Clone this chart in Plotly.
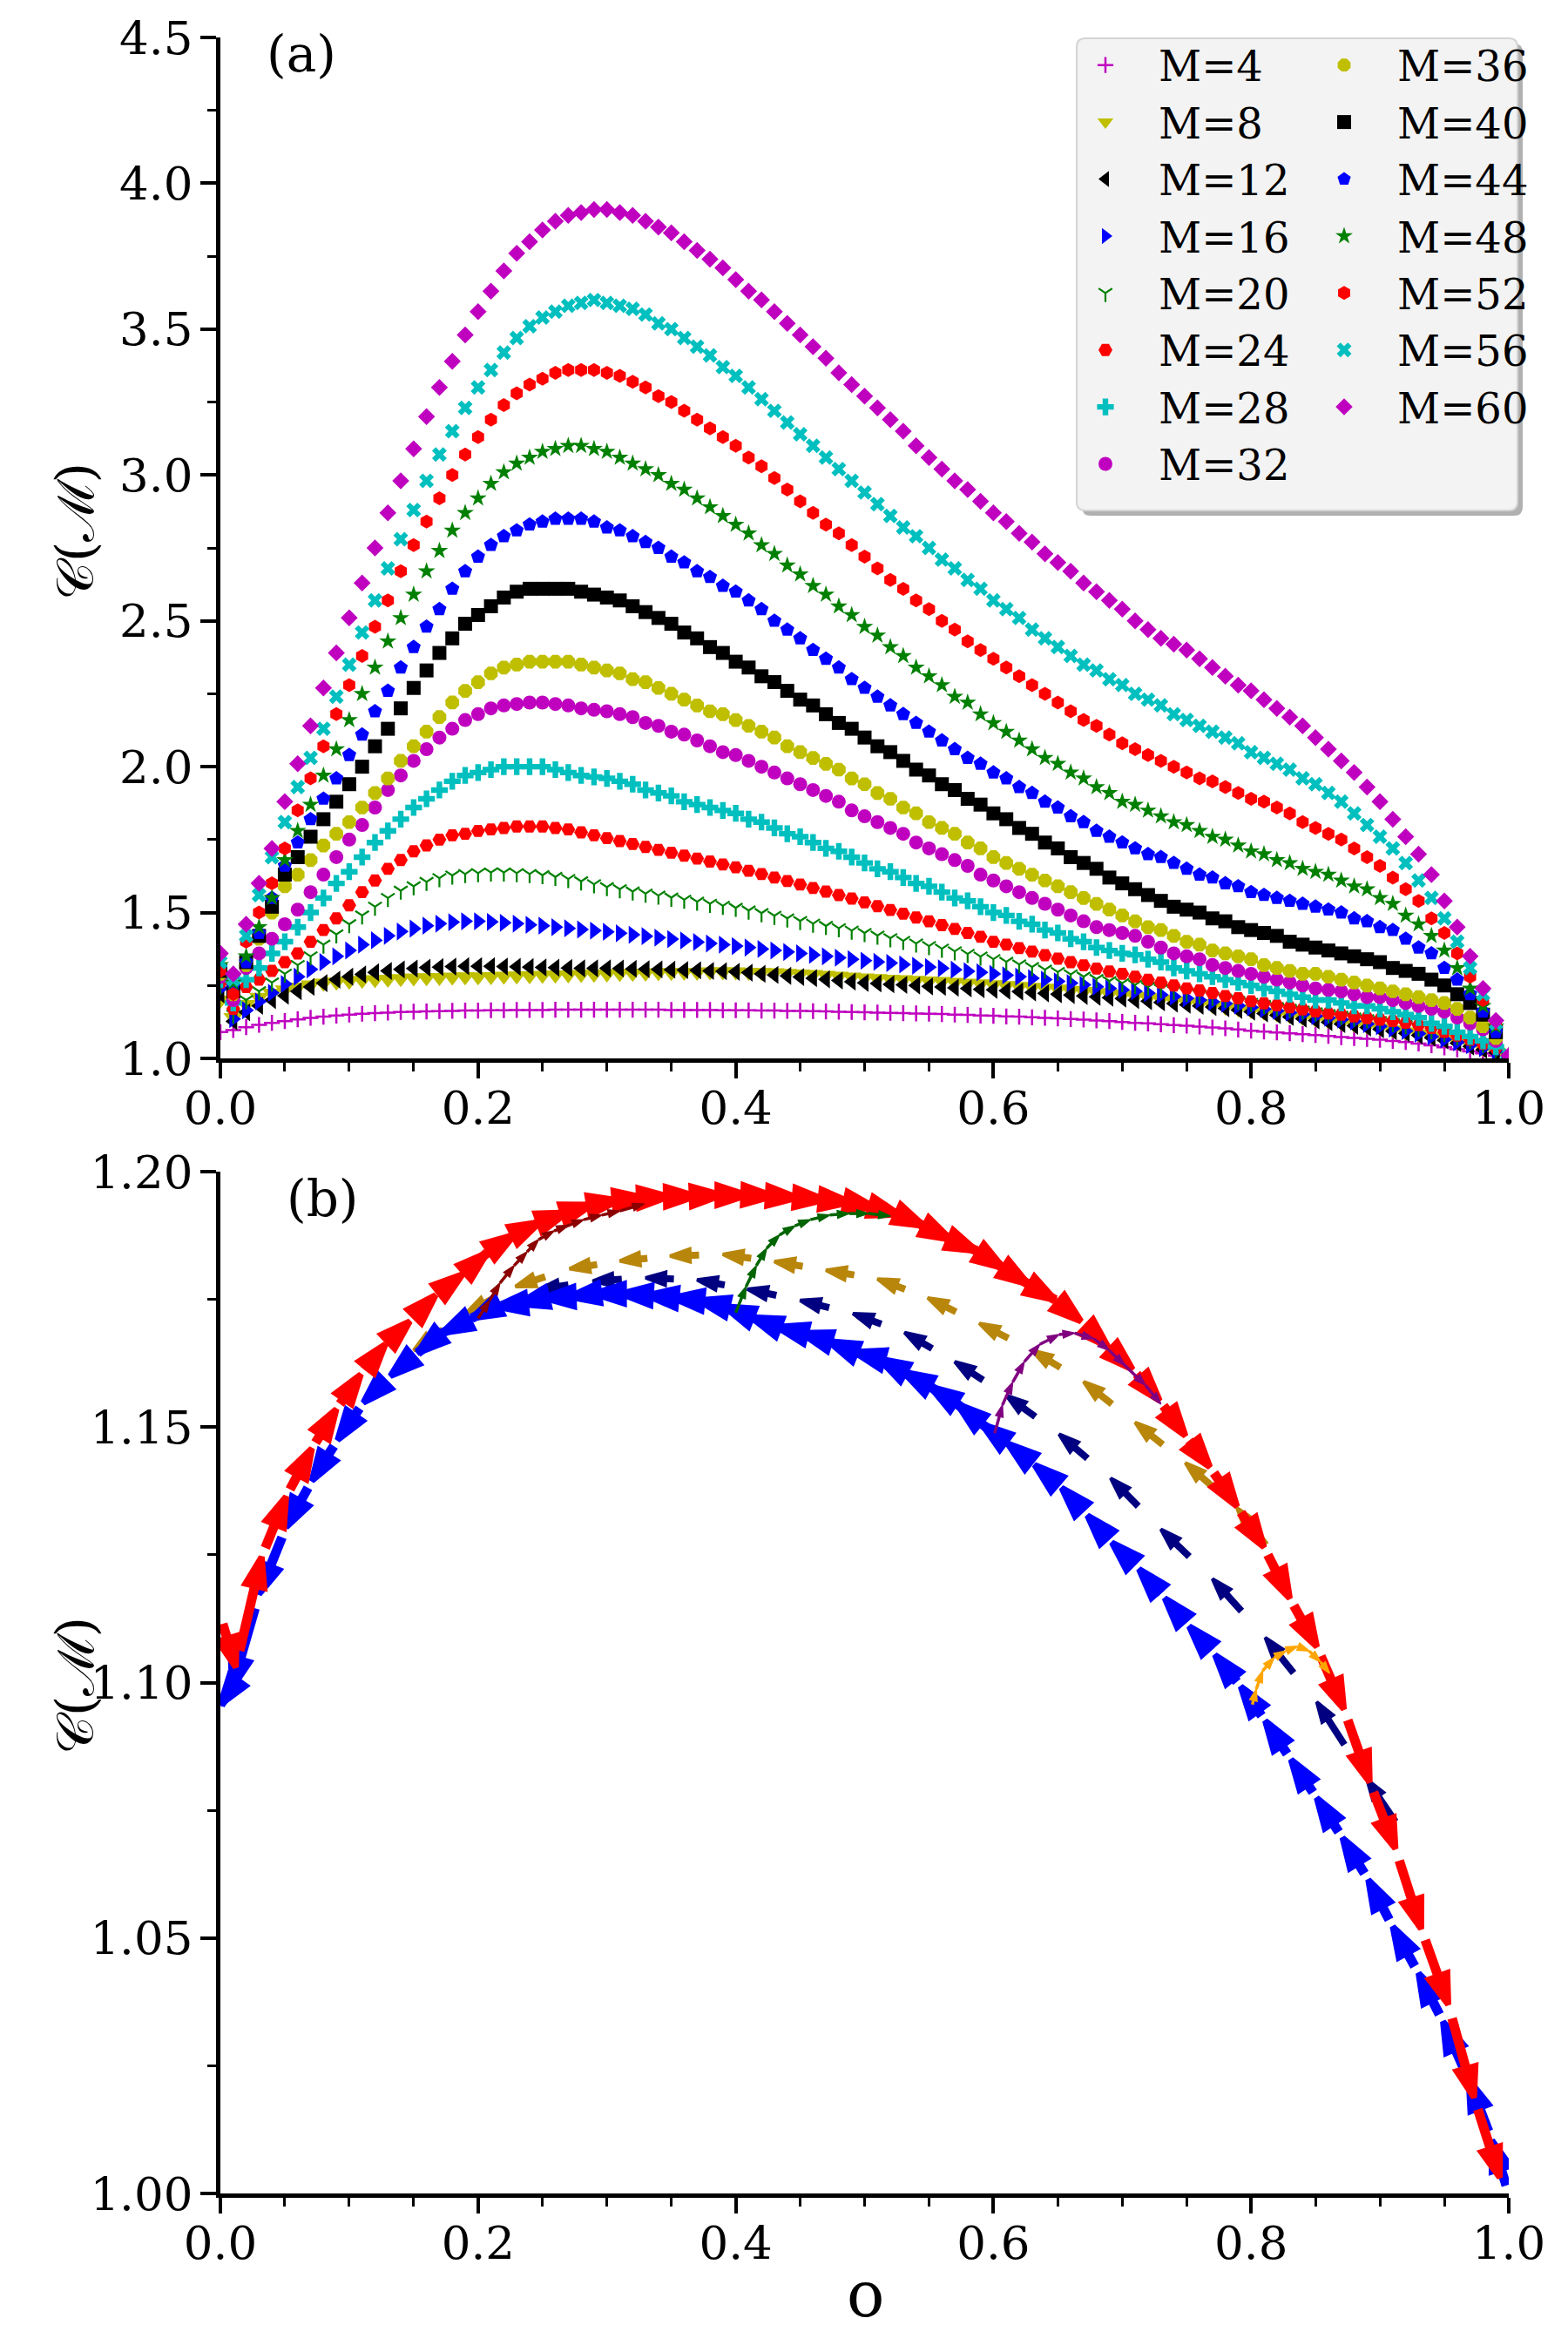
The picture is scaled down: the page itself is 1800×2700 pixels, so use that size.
import numpy as np
import plotly.graph_objects as go

W, H = 1800, 2700
FONT = "DejaVu Serif"

# ---------------- panel (a) data ----------------
X_A = np.linspace(0.0, 1.0, 101)

C_M4 = [1.09, 1.097, 1.107, 1.115, 1.122, 1.128, 1.134, 1.139, 1.143, 1.147,
        1.15, 1.153, 1.155, 1.157, 1.159, 1.16, 1.161, 1.162, 1.163, 1.164,
        1.164, 1.165, 1.165, 1.166, 1.166, 1.166, 1.167, 1.167, 1.167, 1.167,
        1.167, 1.167, 1.167, 1.167, 1.167, 1.166, 1.166, 1.166, 1.166, 1.165,
        1.165, 1.165, 1.164, 1.164, 1.163, 1.163, 1.162, 1.161, 1.16, 1.159,
        1.158, 1.157, 1.156, 1.155, 1.154, 1.153, 1.152, 1.15, 1.149, 1.147,
        1.146, 1.144, 1.143, 1.141, 1.139, 1.137, 1.135, 1.133, 1.13, 1.128,
        1.125, 1.122, 1.12, 1.117, 1.114, 1.112, 1.109, 1.106, 1.103, 1.099,
        1.095, 1.092, 1.089, 1.086, 1.083, 1.08, 1.077, 1.073, 1.07, 1.067,
        1.064, 1.06, 1.056, 1.051, 1.045, 1.038, 1.031, 1.024, 1.017, 1.01,
        1.00]
C_M8 = [1.20, 1.14, 1.185, 1.21, 1.224, 1.235, 1.245, 1.252, 1.258, 1.262,
        1.265, 1.268, 1.27, 1.272, 1.274, 1.276, 1.277, 1.278, 1.279, 1.28,
        1.28, 1.281, 1.282, 1.283, 1.284, 1.285, 1.286, 1.287, 1.288, 1.289,
        1.29, 1.291, 1.292, 1.293, 1.294, 1.295, 1.296, 1.296, 1.297, 1.297,
        1.297, 1.296, 1.295, 1.294, 1.292, 1.29, 1.288, 1.285, 1.282, 1.279,
        1.276, 1.274, 1.272, 1.27, 1.268, 1.266, 1.264, 1.261, 1.258, 1.256,
        1.253, 1.25, 1.247, 1.244, 1.241, 1.238, 1.234, 1.23, 1.226, 1.222,
        1.218, 1.213, 1.208, 1.203, 1.198, 1.193, 1.188, 1.182, 1.176, 1.17,
        1.165, 1.159, 1.153, 1.147, 1.141, 1.135, 1.129, 1.123, 1.117, 1.111,
        1.105, 1.098, 1.091, 1.084, 1.076, 1.068, 1.058, 1.047, 1.035, 1.022,
        1.00]
C_M12 = [1.22, 1.127, 1.158, 1.18, 1.20, 1.215, 1.23, 1.245, 1.258, 1.27,
         1.28, 1.288, 1.295, 1.30, 1.305, 1.308, 1.311, 1.313, 1.315, 1.316,
         1.316, 1.316, 1.315, 1.314, 1.313, 1.312, 1.311, 1.31, 1.309, 1.309,
         1.309, 1.308, 1.307, 1.306, 1.305, 1.304, 1.303, 1.302, 1.30, 1.299,
         1.297, 1.294, 1.29, 1.286, 1.283, 1.279, 1.275, 1.271, 1.267, 1.263,
         1.259, 1.257, 1.254, 1.252, 1.25, 1.247, 1.245, 1.242, 1.24, 1.237,
         1.235, 1.232, 1.229, 1.226, 1.223, 1.22, 1.217, 1.214, 1.211, 1.208,
         1.205, 1.20, 1.196, 1.192, 1.188, 1.184, 1.18, 1.176, 1.172, 1.166,
         1.16, 1.154, 1.148, 1.142, 1.136, 1.13, 1.124, 1.118, 1.112, 1.106,
         1.10, 1.093, 1.086, 1.079, 1.071, 1.062, 1.052, 1.041, 1.03, 1.02,
         1.00]
C_M16 = [1.24, 1.135, 1.165, 1.195, 1.225, 1.255, 1.28, 1.305, 1.33, 1.35,
         1.37, 1.39, 1.405, 1.42, 1.435, 1.445, 1.455, 1.462, 1.467, 1.47,
         1.47, 1.468, 1.465, 1.462, 1.458, 1.455, 1.45, 1.446, 1.442, 1.438,
         1.434, 1.429, 1.424, 1.419, 1.414, 1.409, 1.404, 1.399, 1.394, 1.39,
         1.385, 1.38, 1.375, 1.37, 1.365, 1.36, 1.355, 1.35, 1.345, 1.34,
         1.335, 1.331, 1.327, 1.322, 1.318, 1.313, 1.309, 1.304, 1.299, 1.295,
         1.29, 1.285, 1.28, 1.275, 1.27, 1.264, 1.258, 1.252, 1.246, 1.24,
         1.235, 1.23, 1.224, 1.218, 1.212, 1.206, 1.2, 1.194, 1.188, 1.181,
         1.175, 1.169, 1.163, 1.157, 1.151, 1.145, 1.139, 1.133, 1.127, 1.118,
         1.11, 1.102, 1.094, 1.085, 1.075, 1.065, 1.055, 1.045, 1.035, 1.025,
         1.00]
C_M20 = [1.25, 1.15, 1.20, 1.23, 1.26, 1.29, 1.32, 1.35, 1.39, 1.425,
         1.46, 1.49, 1.52, 1.55, 1.575, 1.59, 1.605, 1.618, 1.627, 1.632,
         1.635, 1.637, 1.637, 1.635, 1.632, 1.628, 1.622, 1.615, 1.607, 1.597,
         1.587, 1.58, 1.572, 1.565, 1.558, 1.551, 1.544, 1.537, 1.53, 1.523,
         1.516, 1.507, 1.498, 1.489, 1.48, 1.471, 1.462, 1.454, 1.446, 1.438,
         1.43, 1.421, 1.412, 1.403, 1.394, 1.385, 1.376, 1.367, 1.358, 1.349,
         1.34, 1.331, 1.322, 1.313, 1.304, 1.296, 1.288, 1.28, 1.272, 1.265,
         1.258, 1.252, 1.245, 1.238, 1.232, 1.225, 1.218, 1.211, 1.204, 1.197,
         1.19, 1.183, 1.176, 1.17, 1.164, 1.158, 1.152, 1.146, 1.14, 1.134,
         1.128, 1.121, 1.114, 1.106, 1.097, 1.087, 1.076, 1.064, 1.05, 1.034,
         1.00]
C_M24 = [1.26, 1.17, 1.245, 1.27, 1.30, 1.33, 1.36, 1.40, 1.44, 1.48,
         1.525, 1.57, 1.61, 1.65, 1.68, 1.71, 1.73, 1.75, 1.765, 1.77,
         1.78, 1.785, 1.79, 1.795, 1.795, 1.795, 1.79, 1.785, 1.775, 1.765,
         1.755, 1.745, 1.735, 1.725, 1.715, 1.705, 1.695, 1.685, 1.675, 1.665,
         1.655, 1.643, 1.632, 1.62, 1.608, 1.596, 1.584, 1.572, 1.56, 1.548,
         1.535, 1.522, 1.509, 1.496, 1.483, 1.47, 1.457, 1.444, 1.43, 1.417,
         1.40, 1.39, 1.378, 1.366, 1.354, 1.342, 1.33, 1.319, 1.308, 1.298,
         1.29, 1.28, 1.27, 1.26, 1.25, 1.24, 1.233, 1.224, 1.214, 1.206,
         1.196, 1.189, 1.182, 1.175, 1.168, 1.161, 1.154, 1.15, 1.144, 1.138,
         1.133, 1.128, 1.122, 1.114, 1.104, 1.091, 1.078, 1.064, 1.05, 1.035,
         1.00]
C_M28 = [1.27, 1.19, 1.27, 1.31, 1.36, 1.40, 1.45, 1.50, 1.55, 1.60,
         1.64, 1.69, 1.74, 1.78, 1.82, 1.86, 1.89, 1.92, 1.95, 1.97,
         1.98, 1.99, 2.00, 2.00, 2.00, 2.00, 1.99, 1.98, 1.97, 1.965,
         1.96, 1.95, 1.94, 1.92, 1.91, 1.90, 1.88, 1.87, 1.86, 1.85,
         1.84, 1.82, 1.81, 1.79, 1.77, 1.76, 1.74, 1.72, 1.71, 1.69,
         1.67, 1.65, 1.64, 1.62, 1.60, 1.59, 1.57, 1.55, 1.54, 1.52,
         1.50, 1.49, 1.47, 1.46, 1.44, 1.43, 1.41, 1.40, 1.38, 1.37,
         1.36, 1.355, 1.34, 1.33, 1.31, 1.30, 1.29, 1.28, 1.27, 1.26,
         1.25, 1.24, 1.23, 1.22, 1.21, 1.20, 1.20, 1.19, 1.18, 1.18,
         1.17, 1.16, 1.15, 1.14, 1.12, 1.11, 1.09, 1.075, 1.06, 1.04,
         1.00]
C_M32 = [1.28, 1.20, 1.31, 1.36, 1.41, 1.46, 1.51, 1.57, 1.63, 1.69,
         1.75, 1.80, 1.86, 1.92, 1.97, 2.02, 2.06, 2.10, 2.13, 2.16,
         2.18, 2.20, 2.21, 2.215, 2.22, 2.22, 2.215, 2.21, 2.20, 2.195,
         2.19, 2.18, 2.17, 2.15, 2.14, 2.12, 2.11, 2.09, 2.07, 2.05,
         2.04, 2.02, 2.00, 1.98, 1.96, 1.94, 1.92, 1.90, 1.88, 1.85,
         1.83, 1.81, 1.79, 1.77, 1.74, 1.72, 1.70, 1.68, 1.66, 1.63,
         1.61, 1.59, 1.57, 1.55, 1.53, 1.51, 1.49, 1.47, 1.45, 1.44,
         1.43, 1.42, 1.40, 1.38, 1.36, 1.35, 1.34, 1.32, 1.31, 1.30,
         1.29, 1.28, 1.27, 1.26, 1.25, 1.24, 1.235, 1.23, 1.22, 1.21,
         1.21, 1.20, 1.19, 1.18, 1.17, 1.16, 1.14, 1.12, 1.10, 1.06,
         1.00]
C_M36 = [1.29, 1.22, 1.32, 1.41, 1.50, 1.59, 1.63, 1.68, 1.73, 1.77,
         1.81, 1.86, 1.91, 1.96, 2.02, 2.07, 2.12, 2.17, 2.22, 2.26,
         2.29, 2.32, 2.34, 2.35, 2.36, 2.36, 2.36, 2.36, 2.35, 2.34,
         2.33, 2.32, 2.30, 2.29, 2.27, 2.25, 2.23, 2.21, 2.19, 2.18,
         2.16, 2.14, 2.12, 2.10, 2.07, 2.05, 2.03, 2.01, 1.99, 1.96,
         1.94, 1.91, 1.89, 1.86, 1.84, 1.81, 1.79, 1.77, 1.74, 1.72,
         1.69, 1.67, 1.65, 1.63, 1.61, 1.59, 1.57, 1.55, 1.53, 1.51,
         1.49, 1.47, 1.45, 1.44, 1.42, 1.40, 1.39, 1.37, 1.36, 1.35,
         1.34, 1.32, 1.31, 1.30, 1.29, 1.29, 1.28, 1.27, 1.26, 1.25,
         1.24, 1.23, 1.22, 1.21, 1.20, 1.19, 1.17, 1.14, 1.11, 1.07,
         1.00]
C_M40 = [1.30, 1.23, 1.33, 1.42, 1.52, 1.63, 1.69, 1.76, 1.82, 1.88,
         1.94, 2.00, 2.07, 2.13, 2.20, 2.27, 2.33, 2.39, 2.44, 2.49,
         2.52, 2.55, 2.58, 2.60, 2.61, 2.61, 2.61, 2.61, 2.60, 2.59,
         2.58, 2.57, 2.55, 2.53, 2.51, 2.49, 2.46, 2.44, 2.41, 2.39,
         2.36, 2.34, 2.31, 2.29, 2.26, 2.23, 2.21, 2.18, 2.15, 2.13,
         2.10, 2.07, 2.05, 2.02, 1.99, 1.97, 1.94, 1.92, 1.89, 1.87,
         1.84, 1.82, 1.79, 1.77, 1.74, 1.72, 1.69, 1.67, 1.65, 1.62,
         1.60, 1.58, 1.56, 1.54, 1.52, 1.51, 1.50, 1.48, 1.47, 1.45,
         1.44, 1.43, 1.42, 1.40, 1.39, 1.38, 1.37, 1.36, 1.35, 1.34,
         1.33, 1.31, 1.30, 1.29, 1.27, 1.25, 1.22, 1.19, 1.15, 1.09,
         1.00]
C_M44 = [1.31, 1.25, 1.33, 1.43, 1.55, 1.66, 1.74, 1.82, 1.89, 1.96,
         2.04, 2.11, 2.19, 2.26, 2.34, 2.41, 2.48, 2.54, 2.61, 2.67,
         2.72, 2.76, 2.79, 2.81, 2.83, 2.84, 2.85, 2.85, 2.85, 2.84,
         2.82, 2.81, 2.79, 2.77, 2.75, 2.72, 2.70, 2.67, 2.65, 2.62,
         2.60, 2.57, 2.54, 2.50, 2.47, 2.44, 2.40, 2.37, 2.34, 2.30,
         2.27, 2.24, 2.21, 2.18, 2.15, 2.12, 2.09, 2.06, 2.03, 2.01,
         1.98, 1.96, 1.93, 1.91, 1.88, 1.86, 1.83, 1.81, 1.78, 1.76,
         1.74, 1.72, 1.70, 1.69, 1.67, 1.65, 1.63, 1.62, 1.60, 1.59,
         1.57, 1.56, 1.55, 1.54, 1.53, 1.52, 1.51, 1.50, 1.48, 1.47,
         1.45, 1.44, 1.41, 1.38, 1.36, 1.31, 1.27, 1.22, 1.16, 1.09,
         1.00]
C_M48 = [1.32, 1.26, 1.35, 1.45, 1.55, 1.68, 1.78, 1.87, 1.97, 2.06,
         2.16, 2.25, 2.34, 2.43, 2.51, 2.59, 2.67, 2.74, 2.81, 2.87,
         2.92, 2.97, 3.01, 3.04, 3.06, 3.08, 3.09, 3.10, 3.10, 3.09,
         3.08, 3.06, 3.04, 3.02, 3.00, 2.97, 2.95, 2.92, 2.89, 2.86,
         2.83, 2.80, 2.76, 2.73, 2.69, 2.66, 2.62, 2.59, 2.55, 2.52,
         2.48, 2.45, 2.41, 2.38, 2.34, 2.31, 2.28, 2.24, 2.22, 2.18,
         2.15, 2.12, 2.09, 2.06, 2.03, 2.01, 1.98, 1.96, 1.93, 1.91,
         1.88, 1.87, 1.85, 1.83, 1.81, 1.80, 1.78, 1.76, 1.75, 1.73,
         1.71, 1.70, 1.68, 1.67, 1.65, 1.64, 1.63, 1.61, 1.59, 1.58,
         1.55, 1.53, 1.49, 1.46, 1.42, 1.37, 1.31, 1.24, 1.18, 1.11,
         1.01]
C_M52 = [1.30, 1.22, 1.40, 1.50, 1.60, 1.72, 1.85, 1.96, 2.07, 2.18,
         2.28, 2.38, 2.48, 2.57, 2.67, 2.76, 2.84, 2.92, 3.00, 3.07,
         3.13, 3.19, 3.24, 3.28, 3.31, 3.33, 3.35, 3.36, 3.36, 3.36,
         3.35, 3.34, 3.32, 3.30, 3.27, 3.25, 3.22, 3.19, 3.16, 3.13,
         3.10, 3.06, 3.03, 2.99, 2.95, 2.91, 2.87, 2.83, 2.80, 2.76,
         2.72, 2.68, 2.64, 2.61, 2.57, 2.54, 2.50, 2.47, 2.43, 2.40,
         2.37, 2.34, 2.31, 2.28, 2.25, 2.22, 2.19, 2.16, 2.14, 2.11,
         2.08, 2.06, 2.04, 2.02, 2.00, 1.98, 1.96, 1.95, 1.93, 1.91,
         1.89, 1.88, 1.86, 1.84, 1.81, 1.79, 1.77, 1.75, 1.72, 1.69,
         1.66, 1.62, 1.58, 1.54, 1.48, 1.43, 1.36, 1.28, 1.20, 1.12,
         1.01]
C_M56 = [1.33, 1.27, 1.42, 1.56, 1.69, 1.81, 1.93, 2.03, 2.13, 2.24,
         2.35, 2.46, 2.57, 2.68, 2.78, 2.88, 2.98, 3.07, 3.15, 3.23,
         3.30, 3.36, 3.42, 3.47, 3.51, 3.54, 3.56, 3.58, 3.59, 3.60,
         3.59, 3.58, 3.57, 3.55, 3.52, 3.50, 3.47, 3.44, 3.41, 3.37,
         3.34, 3.30, 3.26, 3.22, 3.18, 3.14, 3.10, 3.06, 3.02, 2.98,
         2.94, 2.90, 2.86, 2.82, 2.79, 2.75, 2.71, 2.68, 2.64, 2.61,
         2.57, 2.54, 2.51, 2.47, 2.44, 2.41, 2.38, 2.35, 2.33, 2.30,
         2.28, 2.25, 2.23, 2.21, 2.18, 2.16, 2.14, 2.12, 2.10, 2.08,
         2.05, 2.03, 2.01, 1.99, 1.96, 1.94, 1.91, 1.88, 1.84, 1.80,
         1.76, 1.72, 1.67, 1.61, 1.55, 1.48, 1.40, 1.31, 1.22, 1.12,
         1.01]
C_M60 = [1.36, 1.29, 1.46, 1.60, 1.72, 1.88, 2.01, 2.14, 2.27, 2.39,
         2.51, 2.63, 2.75, 2.87, 2.98, 3.09, 3.20, 3.30, 3.39, 3.48,
         3.56, 3.63, 3.70, 3.76, 3.80, 3.84, 3.87, 3.89, 3.90, 3.91,
         3.91, 3.90, 3.89, 3.87, 3.85, 3.83, 3.80, 3.77, 3.74, 3.71,
         3.67, 3.63, 3.60, 3.56, 3.52, 3.48, 3.44, 3.40, 3.35, 3.31,
         3.27, 3.23, 3.19, 3.15, 3.10, 3.06, 3.02, 2.98, 2.95, 2.91,
         2.87, 2.84, 2.80, 2.77, 2.73, 2.70, 2.67, 2.63, 2.60, 2.57,
         2.54, 2.50, 2.47, 2.44, 2.42, 2.40, 2.37, 2.34, 2.31, 2.28,
         2.26, 2.23, 2.20, 2.17, 2.14, 2.10, 2.06, 2.02, 1.98, 1.93,
         1.88, 1.82, 1.76, 1.70, 1.63, 1.54, 1.45, 1.35, 1.24, 1.13,
         1.01]

LABELS_A = ["M=4", "M=8", "M=12", "M=16", "M=20", "M=24", "M=28", "M=32",
            "M=36", "M=40", "M=44", "M=48", "M=52", "M=56", "M=60"]
VALUES_A = [C_M4, C_M8, C_M12, C_M16, C_M20, C_M24, C_M28, C_M32,
            C_M36, C_M40, C_M44, C_M48, C_M52, C_M56, C_M60]

# styles (symbol, color, size, outline width)
STYLE_A = [
    ("cross-thin", "#bf00bf", 13, 2.5),
    ("triangle-down", "#bfbf00", 20, 0),
    ("triangle-left", "#000000", 18, 0),
    ("triangle-right", "#0000ff", 18, 0),
    ("y-down", "#008000", 13, 2.2),
    ("hexagon2", "#ff0000", 16, 0),
    ("cross", "#00bfbf", 16, 0),
    ("circle", "#bf00bf", 16, 0),
    ("octagon", "#bfbf00", 17, 0),
    ("square", "#000000", 16, 0),
    ("pentagon", "#0000ff", 17, 0),
    ("star", "#008000", 15, 0),
    ("hexagon", "#ff0000", 16, 0),
    ("x", "#00bfbf", 15, 0),
    ("diamond", "#bf00bf", 15, 0),
]

# ---------------- panel (b) data ----------------
RED_X = [0.000, 0.012, 0.032, 0.051, 0.071, 0.090, 0.109, 0.128, 0.147, 0.167,
         0.188, 0.207, 0.228, 0.248, 0.269, 0.288, 0.309, 0.329, 0.348, 0.369,
         0.389, 0.409, 0.429, 0.448, 0.469, 0.489, 0.508, 0.527, 0.546, 0.567,
         0.587, 0.608, 0.627, 0.648, 0.668, 0.689, 0.708, 0.729, 0.749, 0.768,
         0.789, 0.810, 0.830, 0.851, 0.872, 0.892, 0.912, 0.932, 0.953, 0.973,
         0.993]
RED_Y = [1.113, 1.103, 1.1246, 1.1364, 1.1458, 1.1535, 1.1603, 1.1662, 1.1707, 1.1758,
         1.1799, 1.1841, 1.1876, 1.1901, 1.1920, 1.1935, 1.1944, 1.1949, 1.1951, 1.1952,
         1.1954, 1.1954, 1.1952, 1.1949, 1.1945, 1.1940, 1.1930, 1.1916, 1.1894, 1.1867,
         1.1845, 1.1811, 1.1780, 1.1749, 1.1707, 1.1657, 1.1613, 1.1552, 1.1483, 1.1422,
         1.1345, 1.1265, 1.1165, 1.1070, 1.0948, 1.0805, 1.0675, 1.0518, 1.0370, 1.0188,
         1.0031]

BLUE_X = [1.000, 0.987, 0.969, 0.949, 0.930, 0.910, 0.891, 0.871, 0.851, 0.831,
          0.811, 0.792, 0.772, 0.752, 0.733, 0.713, 0.692, 0.673, 0.653, 0.632,
          0.611, 0.591, 0.572, 0.551, 0.530, 0.511, 0.492, 0.472, 0.451, 0.432,
          0.412, 0.391, 0.371, 0.351, 0.331, 0.311, 0.290, 0.271, 0.251, 0.231,
          0.214, 0.195, 0.172, 0.153, 0.132, 0.111, 0.091, 0.071, 0.051, 0.030,
          0.009, 0.000]
BLUE_Y = [1.0000, 1.0104, 1.0222, 1.0336, 1.0431, 1.0522, 1.0614, 1.0696, 1.0774, 1.0849,
          1.0925, 1.0992, 1.1054, 1.1110, 1.1165, 1.1222, 1.1274, 1.1327, 1.1381, 1.1426,
          1.1468, 1.1506, 1.1545, 1.1579, 1.1608, 1.1634, 1.1647, 1.1668, 1.1684, 1.1696,
          1.1715, 1.1736, 1.1748, 1.1753, 1.1758, 1.1761, 1.1761, 1.1755, 1.1753, 1.1741,
          1.1736, 1.1713, 1.1684, 1.1645, 1.1600, 1.1548, 1.1475, 1.1395, 1.1304, 1.1173,
          1.0989, 1.0957]

NAVY_X = [0.930, 0.890, 0.851, 0.811, 0.770, 0.730, 0.691, 0.651, 0.610, 0.570,
          0.531, 0.491, 0.450, 0.409, 0.370, 0.330, 0.289, 0.247]
NAVY_Y = [1.0660, 1.0810, 1.0962, 1.1088, 1.1203, 1.1300, 1.1400, 1.1486, 1.1562, 1.1628,
          1.1685, 1.1722, 1.1748, 1.1770, 1.1788, 1.1792, 1.1786, 1.1769]

GOLD_X = [0.830, 0.789, 0.749, 0.710, 0.670, 0.630, 0.589, 0.549, 0.510, 0.470,
          0.430, 0.390, 0.349, 0.310, 0.271, 0.229, 0.191, 0.150]
GOLD_Y = [1.1210, 1.1342, 1.1430, 1.1509, 1.1589, 1.1650, 1.1703, 1.1753, 1.1790, 1.1807,
          1.1824, 1.1838, 1.1835, 1.1825, 1.1810, 1.1775, 1.1724, 1.1650]

MAROON_X = [0.200, 0.209, 0.217, 0.228, 0.238, 0.247, 0.259, 0.270, 0.282, 0.296, 0.310, 0.329]
MAROON_Y = [1.1713, 1.1748, 1.1782, 1.1816, 1.1843, 1.1867, 1.1884, 1.1895, 1.1906, 1.1915, 1.1923, 1.1937]

GREEN_X = [0.400, 0.408, 0.416, 0.424, 0.434, 0.446, 0.458, 0.473, 0.488, 0.503, 0.520]
GREEN_Y = [1.1724, 1.1775, 1.1816, 1.1850, 1.1876, 1.1894, 1.1906, 1.1915, 1.1918, 1.1918, 1.1913]

PURPLE_X = [0.601, 0.607, 0.615, 0.624, 0.636, 0.651, 0.663, 0.678, 0.690, 0.702, 0.718, 0.730]
PURPLE_Y = [1.1488, 1.1543, 1.1588, 1.1628, 1.1662, 1.1681, 1.1684, 1.1673, 1.1650, 1.1621, 1.1582, 1.1545]

ORANGE_X = [0.801, 0.804, 0.809, 0.818, 0.827, 0.836, 0.845, 0.854, 0.861]
ORANGE_Y = [1.0957, 1.0987, 1.1023, 1.1049, 1.1062, 1.1071, 1.1062, 1.1040, 1.1018]

# ---------------- figure ----------------
fig = go.Figure()


def px_x(p):
    return p / W


def px_y(p):
    return 1 - p / H


for i, (lab, vals, st) in enumerate(zip(LABELS_A, VALUES_A, STYLE_A)):
    sym, col, size, lw = st
    marker = dict(symbol=sym, color=col, size=size, opacity=1)
    marker["line"] = dict(color=col, width=lw) if lw > 0 else dict(width=0)
    fig.add_trace(go.Scatter(
        x=X_A, y=vals, mode="markers", name=lab, marker=marker,
        xaxis="x", yaxis="y", cliponaxis=True,
        legend="legend" if i < 8 else "legend2",
    ))


def arrow_segments(xs, ys, frac):
    """Each step i-1 -> i drawn as a shaft ending with a head at point i."""
    sx, sy = [], []
    for i in range(1, len(xs)):
        tx = xs[i] + frac * (xs[i - 1] - xs[i])
        ty = ys[i] + frac * (ys[i - 1] - ys[i])
        sx += [tx, xs[i], None]
        sy += [ty, ys[i], None]
    return sx, sy


def add_arrow_path(xs, ys, color, frac, lw, head, outline):
    sx, sy = arrow_segments(xs, ys, frac)
    sizes = [0, head, 0] * (len(xs) - 1)
    fig.add_trace(go.Scatter(
        x=sx, y=sy, mode="lines+markers", showlegend=False,
        line=dict(color=color, width=lw),
        marker=dict(symbol="arrow", size=sizes, color=color, angleref="previous",
                    opacity=1, line=dict(color=color, width=outline)),
        xaxis="x2", yaxis="y2", cliponaxis=True, connectgaps=False,
    ))


def add_thin_path(xs, ys, color):
    fig.add_trace(go.Scatter(
        x=xs, y=ys, mode="lines+markers", showlegend=False,
        line=dict(color=color, width=3.5),
        marker=dict(symbol="arrow", size=14, color=color, angleref="previous",
                    opacity=1, line=dict(color=color, width=1.5)),
        xaxis="x2", yaxis="y2", cliponaxis=True,
    ))


add_arrow_path(NAVY_X, NAVY_Y, "#000080", 0.55, 8, 24, 4)
add_arrow_path(GOLD_X, GOLD_Y, "#b8860b", 0.55, 8, 24, 4)
add_arrow_path(BLUE_X, BLUE_Y, "#0000ff", 0.85, 11, 36, 7)
add_arrow_path(RED_X, RED_Y, "#ff0000", 0.85, 11, 36, 7)
add_thin_path(MAROON_X, MAROON_Y, "#8b0000")
add_thin_path(GREEN_X, GREEN_Y, "#006400")
add_thin_path(PURPLE_X, PURPLE_Y, "#800080")
add_thin_path(ORANGE_X, ORANGE_Y, "#ffa500")

X0, X1 = 253, 1732
A_TOP, A_BOT = 43, 1215
B_TOP, B_BOT = 1345, 2518

tickfont = dict(family=FONT, size=53, color="black")
common = dict(showline=True, linecolor="black", linewidth=5, ticks="outside",
              ticklen=18, tickwidth=4, tickcolor="black", showgrid=False,
              zeroline=False, mirror=False, tickfont=tickfont, automargin=False)
minor_x = dict(dtick=0.05, ticks="outside", ticklen=10, tickwidth=2.5,
               tickcolor="black", showgrid=False)

fig.update_layout(
    width=W, height=H, margin=dict(l=0, r=0, t=0, b=0, autoexpand=False),
    paper_bgcolor="white", plot_bgcolor="white",
    xaxis=dict(domain=[px_x(X0), px_x(X1)], anchor="y", range=[0, 1],
               tickvals=[0, 0.2, 0.4, 0.6, 0.8, 1.0], tickformat=".1f",
               minor=minor_x, ticklabelstandoff=-12, **common),
    yaxis=dict(domain=[px_y(A_BOT), px_y(A_TOP)], anchor="x", range=[1.0, 4.5],
               dtick=0.5, tick0=1.0, tickformat=".1f",
               minor=dict(dtick=0.25, ticks="outside", ticklen=10, tickwidth=2.5,
                          tickcolor="black", showgrid=False),
               ticklabelstandoff=-2, **common),
    xaxis2=dict(domain=[px_x(X0), px_x(X1)], anchor="y2", range=[0, 1],
                tickvals=[0, 0.2, 0.4, 0.6, 0.8, 1.0], tickformat=".1f",
                minor=minor_x, ticklabelstandoff=-12, **common),
    yaxis2=dict(domain=[px_y(B_BOT), px_y(B_TOP)], anchor="x2", range=[1.0, 1.2],
                dtick=0.05, tick0=1.0, tickformat=".2f",
                minor=dict(dtick=0.025, ticks="outside", ticklen=10, tickwidth=2.5,
                           tickcolor="black", showgrid=False),
                ticklabelstandoff=-2, **common),
    legend=dict(x=px_x(1208), y=px_y(37), xanchor="left", yanchor="top",
                bgcolor="rgba(0,0,0,0)", borderwidth=0, itemwidth=112,
                font=dict(family=FONT, size=48, color="black"), tracegroupgap=0),
    legend2=dict(x=px_x(1482), y=px_y(37), xanchor="left", yanchor="top",
                 bgcolor="rgba(0,0,0,0)", borderwidth=0, itemwidth=112,
                 font=dict(family=FONT, size=48, color="black"), tracegroupgap=0),
)


def rounded_rect(x0, y0, x1, y1, r):
    ax0, ax1 = px_x(x0), px_x(x1)
    yt, yb = px_y(y0), px_y(y1)
    rx, ry = r / W, r / H
    return (f"M{ax0 + rx},{yt} L{ax1 - rx},{yt} Q{ax1},{yt} {ax1},{yt - ry} "
            f"L{ax1},{yb + ry} Q{ax1},{yb} {ax1 - rx},{yb} "
            f"L{ax0 + rx},{yb} Q{ax0},{yb} {ax0},{yb + ry} "
            f"L{ax0},{yt - ry} Q{ax0},{yt} {ax0 + rx},{yt} Z")


fig.add_shape(type="path", xref="paper", yref="paper",
              path=rounded_rect(1242, 50, 1748, 592, 10),
              fillcolor="#b0b0b0", line=dict(width=0), layer="above")
fig.add_shape(type="path", xref="paper", yref="paper",
              path=rounded_rect(1236, 44, 1742, 586, 10),
              fillcolor="#f3f3f3", line=dict(color="#d4d4d4", width=2), layer="above")

ann_font = dict(family=FONT, size=58, color="black")
fig.add_annotation(text="(a)", x=px_x(346), y=px_y(62), xref="paper", yref="paper",
                   xanchor="center", yanchor="middle", showarrow=False, font=ann_font)
fig.add_annotation(text="(b)", x=px_x(370), y=px_y(1376), xref="paper", yref="paper",
                   xanchor="center", yanchor="middle", showarrow=False, font=ann_font)
for yc in (610, 1935):
    fig.add_annotation(text="𝒞(ℳ)", x=px_x(86), y=px_y(yc), xref="paper", yref="paper",
                       xanchor="center", yanchor="middle", showarrow=False, textangle=-90,
                       font=dict(family=FONT, size=60, color="black"))
fig.add_annotation(text="o", x=px_x(994), y=px_y(2634), xref="paper", yref="paper",
                   xanchor="center", yanchor="middle", showarrow=False,
                   font=dict(family=FONT, size=72, color="black"))

fig.write_html("out.html")
